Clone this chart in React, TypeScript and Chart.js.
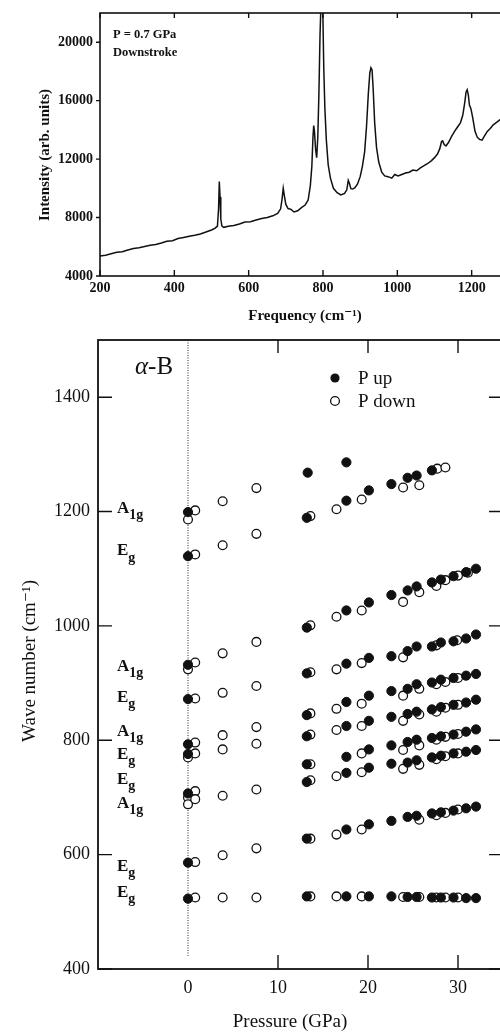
import React, { useEffect, useRef } from 'react';
import { Chart, registerables } from 'chart.js';

Chart.register(...registerables);

const FONT = '"Liberation Serif", "DejaVu Serif", serif';

// ---------- Top panel: Raman spectrum (P = 0.7 GPa, downstroke) ----------
const specFreq = [
  200, 215, 230, 245, 260, 275, 290, 305, 320, 335, 350, 365, 380, 395, 410, 425, 440, 455, 470, 485,
  500, 510, 516, 519, 521, 523, 525, 528, 533, 545, 560, 575, 590, 605, 620, 635, 650, 665, 678, 686,
  690, 693, 696, 700, 706, 714, 722, 732, 742, 752, 760, 766, 770, 773, 775, 777, 780, 783, 786, 789,
  792, 795, 797, 799, 802, 805, 809, 814, 820, 828, 838, 848, 858, 864, 868, 871, 875, 880, 886, 893,
  900, 906, 912, 917, 922, 926, 929, 932, 935, 939, 944, 950, 958, 966, 975, 985, 993, 1002, 1012, 1022,
  1032, 1042, 1052, 1062, 1072, 1082, 1092, 1100, 1108, 1114, 1119, 1122, 1126, 1131, 1138, 1146, 1154, 1162, 1170, 1176,
  1181, 1185, 1188, 1191, 1194, 1198, 1203, 1209, 1215, 1221, 1228, 1235, 1242, 1250, 1258, 1266, 1274, 1282,
];
const specIntensity = [
  5370, 5420, 5520, 5620, 5660, 5780, 5880, 5930, 6020, 6110, 6150, 6260, 6380, 6420, 6560, 6640, 6720, 6790, 6880, 7010,
  7150, 7280, 7420, 8600, 10460, 9400, 7900, 7420, 7330, 7400, 7450, 7560, 7700, 7720, 7830, 7930, 8000, 8120, 8280, 8600,
  9300, 10000, 9500, 8900, 8620, 8560, 8380, 8460, 8680, 8860, 9200, 10200, 11500, 13500, 14300, 13900, 12700, 12100, 13500, 16500,
  20500, 23000, 24000, 23000, 18300, 15500, 13300, 11600, 10700, 10000, 9700, 9550, 9650, 9900, 10550, 10350, 9980, 9950, 10050, 10300,
  10800, 11500, 12500, 14200, 16500, 17900, 18250, 18100, 16800, 14500, 12800, 11800, 11100, 10850, 10800, 10700, 10950, 10850, 10950, 11050,
  11100, 11250, 11200, 11400, 11550, 11700, 11900, 12100, 12350, 12700, 13200, 13250, 13000, 12900, 13150, 13550, 13900, 14200, 14500, 15000,
  15800, 16600, 16750, 16400, 15700, 15450, 14800, 13900, 13500, 13350, 13300, 13600, 13900, 14100, 14350, 14500, 14650, 14800,
];
const specXTicks = [200, 400, 600, 800, 1000, 1200, 1400];
const specYTicks = [4000, 8000, 12000, 16000, 20000];

// ---------- Bottom panel: wave number vs pressure ----------
const upPressure = [
  0, 0, 0, 0, 0, 0, 0, 0, 0,
  13.3, 17.6,
  13.2, 17.6, 20.1, 22.6, 24.4, 25.4, 27.1,
  13.2, 17.6, 20.1, 22.6, 24.4, 25.4, 27.1, 28.1, 29.5, 30.9, 32.0,
  13.2, 17.6, 20.1, 22.6, 24.4, 25.4, 27.1, 28.1, 29.5, 30.9, 32.0,
  13.2, 17.6, 20.1, 22.6, 24.4, 25.4, 27.1, 28.1, 29.5, 30.9, 32.0,
  13.2, 17.6, 20.1, 22.6, 24.4, 25.4, 27.1, 28.1, 29.5, 30.9, 32.0,
  13.2, 17.6, 20.1, 22.6, 24.4, 25.4, 27.1, 28.1, 29.5, 30.9, 32.0,
  13.2, 17.6, 20.1, 22.6, 24.4, 25.4, 27.1, 28.1, 29.5, 30.9, 32.0,
  13.2, 17.6, 20.1, 22.6, 24.4, 25.4, 27.1, 28.1, 29.5, 30.9, 32.0,
  13.2, 17.6, 20.1, 22.6, 24.4, 25.4, 27.1, 28.1, 29.5, 30.9, 32.0,
];
const upWavenumber = [
  1199, 1122, 932, 872, 793, 776, 707, 586, 523,
  1268, 1286,
  1189, 1219, 1237, 1248, 1259, 1263, 1272,
  997, 1027, 1041, 1054, 1062, 1069, 1076, 1081, 1087, 1094, 1100,
  917, 934, 944, 947, 956, 964, 964, 971, 973, 978, 985,
  844, 867, 878, 886, 890, 898, 901, 906, 909, 913, 916,
  807, 825, 834, 841, 846, 850, 854, 858, 862, 866, 871,
  758, 771, 784, 791, 797, 801, 804, 807, 810, 815, 819,
  727, 743, 752, 759, 761, 765, 770, 773, 777, 780, 783,
  628, 644, 653, 659, 666, 668, 672, 674, 677, 681, 684,
  527, 527, 527, 527, 526, 526, 525, 525, 525, 524, 524,
];
const downPressure = [
  0, 0.8, 3.85, 7.6,
  0.8, 3.85, 7.6,
  0, 0.8, 3.85, 7.6,
  0.8, 3.85, 7.6,
  0.8, 3.85, 7.6,
  0, 0.8, 3.85, 7.6,
  0, 0, 0.8, 0.8, 3.85, 7.6,
  0.8, 3.85, 7.6,
  0.8, 3.85, 7.6,
  13.6, 16.5, 19.3, 23.9, 25.7, 27.7, 28.6,
  13.6, 16.5, 19.3, 23.9, 25.7, 27.6, 28.6, 30.0, 31.1,
  13.6, 16.5, 19.3, 23.9, 27.6, 29.9,
  13.6, 16.5, 19.3, 23.9, 25.7, 27.6, 28.6, 30.0,
  13.6, 16.5, 19.3, 23.9, 25.7, 27.6, 28.6, 30.0,
  13.6, 19.3, 23.9, 25.7, 27.6, 28.6, 30.0,
  13.6, 16.5, 19.3, 23.9, 25.7, 27.6, 28.6, 30.0,
  13.6, 16.5, 19.3, 25.7, 27.6, 28.6, 30.0,
  13.6, 16.5, 19.3, 23.9, 25.7, 27.6, 28.6, 30.0,
];
const downWavenumber = [
  1186, 1202, 1218, 1241,
  1125, 1141, 1161,
  924, 936, 952, 972,
  873, 883, 895,
  796, 809, 823,
  770, 777, 784, 794,
  700, 688, 711, 697, 703, 714,
  587, 599, 611,
  525, 525, 525,
  1192, 1204, 1221, 1242, 1246, 1275, 1277,
  1001, 1016, 1027, 1042, 1059, 1070, 1080, 1088, 1093,
  919, 924, 935, 945, 966, 975,
  847, 855, 864, 878, 890, 898, 902, 909,
  810, 818, 825, 834, 845, 850, 857, 862,
  758, 777, 783, 791, 801, 806, 811,
  730, 737, 744, 750, 757, 767, 772, 777,
  628, 635, 644, 661, 669, 673, 679,
  527, 527, 527, 526, 526, 525, 525, 525,
];
const pressureTickLabels = [0, 10, 20, 30];
const pressureTickMarks = [10, 20, 30];
const wavenumberTicks = [400, 600, 800, 1000, 1200, 1400];

const modeLabelNames = ['A', 'E', 'A', 'E', 'A', 'E', 'E', 'A', 'E', 'E'];
const modeLabelSubs = ['1g', 'g', '1g', 'g', '1g', 'g', 'g', '1g', 'g', 'g'];
const modeLabelWavenumbers = [1206, 1131, 929, 875, 815, 775, 731, 690, 579, 534];

const zeroPadding = (s: any) => {
  s.paddingTop = 0;
  s.paddingBottom = 0;
  s.paddingLeft = 0;
  s.paddingRight = 0;
};

const topDecor = {
  id: 'topDecor',
  afterDraw(chart: any) {
    const { ctx, chartArea: a, scales } = chart;
    const xs = scales.x;
    const ys = scales.y;
    ctx.save();
    ctx.strokeStyle = '#111';
    ctx.lineWidth = 1.6;
    ctx.strokeRect(a.left, a.top, a.right - a.left, a.bottom - a.top);
    ctx.lineWidth = 1.4;
    ctx.beginPath();
    specXTicks.forEach((v) => {
      const px = xs.getPixelForValue(v);
      ctx.moveTo(px, a.bottom);
      ctx.lineTo(px, a.bottom - 6);
      ctx.moveTo(px, a.top);
      ctx.lineTo(px, a.top + 5);
    });
    specYTicks.forEach((v) => {
      const py = ys.getPixelForValue(v);
      ctx.moveTo(a.left, py);
      ctx.lineTo(a.left - 4, py);
    });
    ctx.stroke();

    ctx.fillStyle = '#111';
    ctx.textBaseline = 'middle';
    ctx.textAlign = 'left';
    ctx.font = `bold 12.5px ${FONT}`;
    ctx.fillText('P = 0.7 GPa', a.left + 13, a.top + 22);
    ctx.fillText('Downstroke', a.left + 13, a.top + 40);

    ctx.font = `bold 15px ${FONT}`;
    ctx.textAlign = 'center';
    ctx.fillText('Frequency (cm\u207B\u00B9)', 305, 316);
    ctx.save();
    ctx.translate(45, 155);
    ctx.rotate(-Math.PI / 2);
    ctx.fillText('Intensity (arb. units)', 0, 0);
    ctx.restore();
    ctx.restore();
  },
};

const bottomDecor = {
  id: 'bottomDecor',
  beforeDatasetsDraw(chart: any) {
    const { ctx, chartArea: a, scales } = chart;
    const px = scales.x.getPixelForValue(0);
    ctx.save();
    ctx.strokeStyle = '#222';
    ctx.lineWidth = 1;
    ctx.setLineDash([1, 1.5]);
    ctx.beginPath();
    ctx.moveTo(px, a.top);
    ctx.lineTo(px, scales.y.getPixelForValue(423));
    ctx.stroke();
    ctx.restore();
  },
  afterDraw(chart: any) {
    const { ctx, chartArea: a, scales } = chart;
    const xs = scales.x;
    const ys = scales.y;
    ctx.save();
    ctx.strokeStyle = '#111';
    ctx.lineWidth = 1.8;
    ctx.strokeRect(a.left, a.top, a.right - a.left, a.bottom - a.top);
    ctx.lineWidth = 1.4;
    ctx.beginPath();
    wavenumberTicks.forEach((v) => {
      const py = ys.getPixelForValue(v);
      ctx.moveTo(a.left, py);
      ctx.lineTo(a.left + 14, py);
      ctx.moveTo(a.right, py);
      ctx.lineTo(a.right - 14, py);
    });
    pressureTickMarks.forEach((v) => {
      const px = xs.getPixelForValue(v);
      ctx.moveTo(px, a.bottom);
      ctx.lineTo(px, a.bottom - 14);
      ctx.moveTo(px, a.top);
      ctx.lineTo(px, a.top + 13);
    });
    ctx.stroke();

    ctx.fillStyle = '#111';
    ctx.textBaseline = 'middle';
    // alpha-B
    ctx.textAlign = 'left';
    ctx.font = `italic 25px ${FONT}`;
    ctx.fillText('\u03B1', a.left + 37, a.top + 27);
    const aw = ctx.measureText('\u03B1').width;
    ctx.font = `25px ${FONT}`;
    ctx.fillText('-B', a.left + 37 + aw, a.top + 27);

    // legend
    const lx = a.left + 237;
    ctx.beginPath();
    ctx.arc(lx, a.top + 38, 4.6, 0, Math.PI * 2);
    ctx.fill();
    ctx.beginPath();
    ctx.arc(lx, a.top + 61, 4.4, 0, Math.PI * 2);
    ctx.fillStyle = '#fff';
    ctx.fill();
    ctx.lineWidth = 1.3;
    ctx.stroke();
    ctx.fillStyle = '#111';
    ctx.font = `19px ${FONT}`;
    ctx.fillText('P up', lx + 23, a.top + 39);
    ctx.fillText('P down', lx + 23, a.top + 62);

    // mode labels
    modeLabelNames.forEach((name, i) => {
      const py = ys.getPixelForValue(modeLabelWavenumbers[i]);
      const x0 = a.left + 19;
      ctx.font = `bold 17px ${FONT}`;
      ctx.fillText(name, x0, py);
      const w = ctx.measureText(name).width;
      ctx.font = `bold 14px ${FONT}`;
      ctx.fillText(modeLabelSubs[i], x0 + w, py + 7);
    });

    // axis titles
    ctx.textAlign = 'center';
    ctx.font = `19px ${FONT}`;
    ctx.fillText('Pressure (GPa)', 290, a.bottom + 53);
    ctx.save();
    ctx.translate(30, 331);
    ctx.rotate(-Math.PI / 2);
    ctx.fillText('Wave number (cm\u207B\u00B9)', 0, 0);
    ctx.restore();
    ctx.restore();
  },
};

export default function App() {
  const topRef = useRef<HTMLCanvasElement>(null);
  const botRef = useRef<HTMLCanvasElement>(null);

  useEffect(() => {
    const top = new Chart(topRef.current as HTMLCanvasElement, {
      type: 'line',
      data: {
        datasets: [
          {
            data: specFreq.map((f, i) => ({ x: f, y: specIntensity[i] })),
            borderColor: '#111',
            borderWidth: 1.5,
            pointRadius: 0,
            tension: 0,
            fill: false,
          },
        ],
      },
      options: {
        responsive: false,
        animation: false,
        devicePixelRatio: 1,
        layout: { padding: { top: 13, right: 14, left: 0, bottom: 0 } },
        plugins: { legend: { display: false }, tooltip: { enabled: false } },
        scales: {
          x: {
            type: 'linear',
            min: 200,
            max: 1400,
            afterBuildTicks: (s: any) => {
              s.ticks = specXTicks.map((v) => ({ value: v }));
            },
            afterFit: (s: any) => {
              s.height = 54;
              zeroPadding(s);
            },
            grid: { display: false, drawTicks: false },
            border: { display: false },
            ticks: {
              color: '#111',
              font: { family: FONT, size: 14, weight: 'bold' },
              padding: 4,
              maxRotation: 0,
              autoSkip: false,
              callback: (v: any) => String(v),
            },
          },
          y: {
            type: 'linear',
            min: 4000,
            max: 22000,
            afterBuildTicks: (s: any) => {
              s.ticks = specYTicks.map((v) => ({ value: v }));
            },
            afterFit: (s: any) => {
              s.width = 100;
              zeroPadding(s);
            },
            grid: { display: false, drawTicks: false },
            border: { display: false },
            ticks: {
              color: '#111',
              font: { family: FONT, size: 14, weight: 'bold' },
              padding: 7,
              autoSkip: false,
              callback: (v: any) => String(v),
            },
          },
        },
      },
      plugins: [topDecor],
    } as any);

    const bot = new Chart(botRef.current as HTMLCanvasElement, {
      type: 'scatter',
      data: {
        datasets: [
          {
            label: 'P up',
            data: upPressure.map((p, i) => ({ x: p, y: upWavenumber[i] })),
            pointRadius: 4.6,
            pointBackgroundColor: '#111',
            pointBorderColor: '#111',
            pointBorderWidth: 1,
            showLine: false,
          },
          {
            label: 'P down',
            data: downPressure.map((p, i) => ({ x: p, y: downWavenumber[i] })),
            pointRadius: 4.4,
            pointBackgroundColor: '#fff',
            pointBorderColor: '#111',
            pointBorderWidth: 1.3,
            showLine: false,
          },
        ],
      },
      options: {
        responsive: false,
        animation: false,
        devicePixelRatio: 1,
        layout: { padding: { top: 10, right: 7, left: 0, bottom: 0 } },
        plugins: { legend: { display: false }, tooltip: { enabled: false } },
        scales: {
          x: {
            type: 'linear',
            min: -10,
            max: 35,
            afterBuildTicks: (s: any) => {
              s.ticks = pressureTickLabels.map((v) => ({ value: v }));
            },
            afterFit: (s: any) => {
              s.height = 63;
              zeroPadding(s);
            },
            grid: { display: false, drawTicks: false },
            border: { display: false },
            ticks: {
              color: '#111',
              font: { family: FONT, size: 18 },
              padding: 8,
              maxRotation: 0,
              autoSkip: false,
              callback: (v: any) => String(v),
            },
          },
          y: {
            type: 'linear',
            min: 400,
            max: 1500,
            afterBuildTicks: (s: any) => {
              s.ticks = wavenumberTicks.map((v) => ({ value: v }));
            },
            afterFit: (s: any) => {
              s.width = 98;
              zeroPadding(s);
            },
            grid: { display: false, drawTicks: false },
            border: { display: false },
            ticks: {
              color: '#111',
              font: { family: FONT, size: 18 },
              padding: 8,
              autoSkip: false,
              callback: (v: any) => String(v),
            },
          },
        },
      },
      plugins: [bottomDecor],
    } as any);

    return () => {
      top.destroy();
      bot.destroy();
    };
  }, []);

  return (
    <div
      style={{
        position: 'absolute',
        left: 0,
        top: 0,
        width: 500,
        height: 1032,
        overflow: 'hidden',
        background: '#fff',
      }}
    >
      <canvas
        ref={topRef}
        width={560}
        height={330}
        style={{ position: 'absolute', left: 0, top: 0, width: 560, height: 330 }}
      />
      <canvas
        ref={botRef}
        width={510}
        height={702}
        style={{ position: 'absolute', left: 0, top: 330, width: 510, height: 702 }}
      />
    </div>
  );
}
